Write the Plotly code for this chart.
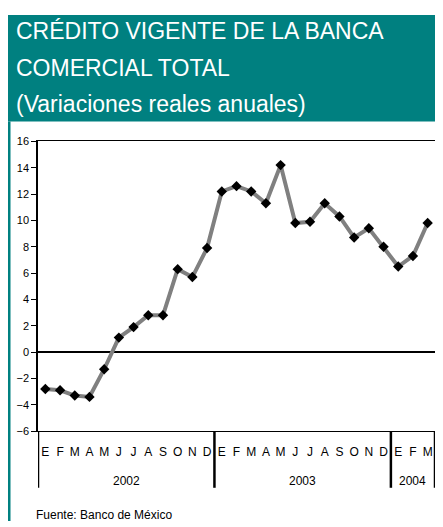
import plotly.graph_objects as go

months = ["E", "F", "M", "A", "M", "J", "J", "A", "S", "O", "N", "D",
          "E", "F", "M", "A", "M", "J", "J", "A", "S", "O", "N", "D",
          "E", "F", "M"]
years = ["2002", "2003", "2004"]
year_centers = [5.5, 17.5, 25.0]
year_bounds = [-0.5, 11.5, 23.5, 26.5]
values = [-2.8, -2.9, -3.3, -3.4, -1.3, 1.1, 1.9, 2.8, 2.8, 6.3, 5.7, 7.9,
          12.2, 12.6, 12.2, 11.3, 14.2, 9.8, 9.9, 11.3, 10.3, 8.7, 9.4, 8.0,
          6.5, 7.3, 9.8]
y_ticks = [16, 14, 12, 10, 8, 6, 4, 2, 0, -2, -4, -6]
title_lines = ["CRÉDITO VIGENTE DE LA BANCA", "COMERCIAL TOTAL",
               "(Variaciones reales anuales)"]
source = "Fuente: Banco de México"

PAGE_W, PAGE_H = 443, 527
OFF = 8  # default body margin of the html page
W, H = PAGE_W - OFF, PAGE_H - OFF
TEAL = "#008080"
FONT = "Liberation Sans, Arial, sans-serif"


def px(x):
    """page x pixel -> paper fraction"""
    return (x - OFF) / W


def py(y):
    """page y pixel (from top) -> paper fraction"""
    return (H - (y - OFF)) / H


x_idx = list(range(len(values)))

fig = go.Figure()
fig.add_trace(go.Scatter(
    x=x_idx, y=values, mode="lines+markers",
    line=dict(color="#808080", width=4),
    marker=dict(symbol="diamond", size=8, color="black"),
    showlegend=False, cliponaxis=False,
))

shapes = []
shapes.append(dict(type="rect", xref="paper", yref="paper",
                   x0=px(6), x1=1.0, y0=py(118), y1=py(9),
                   fillcolor=TEAL, line=dict(width=0), layer="below"))
shapes.append(dict(type="line", xref="paper", yref="paper",
                   x0=px(9), x1=px(9), y0=py(118), y1=0,
                   line=dict(color=TEAL, width=3)))
for b in year_bounds:
    shapes.append(dict(type="line", xref="x", yref="paper",
                       x0=b, x1=b, y0=py(493), y1=py(435),
                       line=dict(color="black", width=2.5)))

annotations = []
title_y = [25, 63, 100]
for t, yy in zip(title_lines, title_y):
    annotations.append(dict(text=t, xref="paper", yref="paper",
                            x=px(14), y=py(yy), xanchor="left", yanchor="middle",
                            showarrow=False,
                            font=dict(family=FONT, size=23, color="white")))
for yl, xc in zip(years, year_centers):
    annotations.append(dict(text=yl, xref="x", yref="paper",
                            x=xc, y=py(486), xanchor="center", yanchor="middle",
                            showarrow=False,
                            font=dict(family=FONT, size=12, color="black")))
annotations.append(dict(text=source, xref="paper", yref="paper",
                        x=px(34), y=py(512), xanchor="left", yanchor="top",
                        showarrow=False,
                        font=dict(family=FONT, size=12, color="black")))

fig.update_layout(
    width=W, height=H, autosize=False,
    margin=dict(l=0, r=0, t=0, b=0),
    paper_bgcolor="white", plot_bgcolor="white",
    font=dict(family=FONT, color="black"),
    shapes=shapes, annotations=annotations,
    xaxis=dict(domain=[px(38), px(435)], range=[-0.5, 26.5],
               tickvals=x_idx, ticktext=months, ticks="",
               ticklabelstandoff=9,
               tickfont=dict(size=12), showgrid=False, zeroline=False,
               showline=True, linecolor="black", linewidth=1, mirror=True,
               fixedrange=True),
    yaxis=dict(domain=[py(435), py(138.4)], range=[-6, 16],
               tickvals=y_ticks, ticks="outside", ticklen=5, tickcolor="black",
               tickfont=dict(size=11), showgrid=False,
               zeroline=True, zerolinecolor="black", zerolinewidth=2,
               showline=True, linecolor="black", linewidth=1.5, mirror=True,
               fixedrange=True),
)

fig.write_html("out.html")
